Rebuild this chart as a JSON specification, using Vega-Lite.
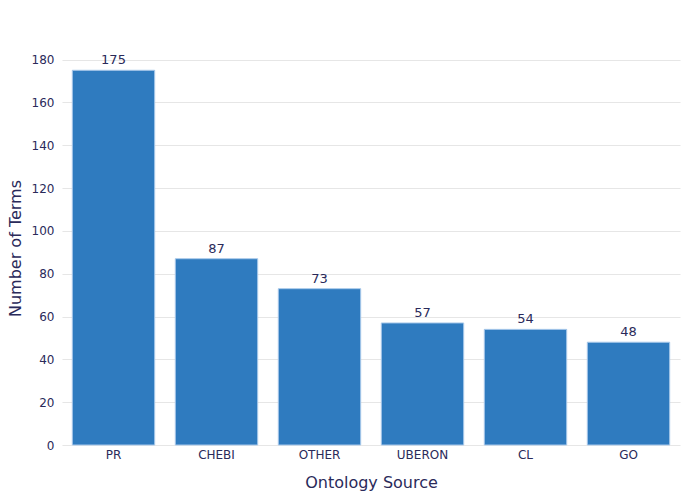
{
  "$schema": "https://vega.github.io/schema/vega-lite/v6.json",
  "width": 618,
  "height": 394,
  "autosize": "none",
  "padding": {"left": 62, "top": 51, "right": 20, "bottom": 55},
  "background": "white",
  "config": {
    "font": "DejaVu Sans",
    "view": {"stroke": null}
  },
  "data": {
    "values": [
      {"source": "PR", "terms": 175},
      {"source": "CHEBI", "terms": 87},
      {"source": "OTHER", "terms": 73},
      {"source": "UBERON", "terms": 57},
      {"source": "CL", "terms": 54},
      {"source": "GO", "terms": 48}
    ]
  },
  "encoding": {
    "x": {
      "field": "source", "type": "nominal", "sort": null,
      "title": "Ontology Source",
      "scale": {"paddingInner": 0.2, "paddingOuter": 0.1},
      "axis": {"labelAngle": 0, "labelFontSize": 12, "labelColor": "#2a2a5a", "titleFontSize": 16, "titleFontWeight": "normal", "titleColor": "#2a2a5a", "titlePadding": 14, "domain": false, "ticks": false, "labelPadding": 4}
    },
    "y": {
      "field": "terms", "type": "quantitative",
      "title": "Number of Terms",
      "scale": {"domain": [0, 184], "nice": false},
      "axis": {"values": [0, 20, 40, 60, 80, 100, 120, 140, 160, 180], "labelFontSize": 12, "labelColor": "#2a2a5a", "titleFontSize": 16, "titleFontWeight": "normal", "titleColor": "#2a2a5a", "titlePadding": 8, "domain": false, "ticks": false, "labelPadding": 8, "gridColor": "#e6e6e6", "gridWidth": 1.2}
    }
  },
  "layer": [
    {"mark": {"type": "bar", "color": "#2f7bbf", "stroke": "#a9c9ea", "strokeWidth": 1}},
    {"mark": {"type": "text", "dy": -10, "fontSize": 13, "color": "#2a2a5a"}, "encoding": {"text": {"field": "terms"}}}
  ]
}
